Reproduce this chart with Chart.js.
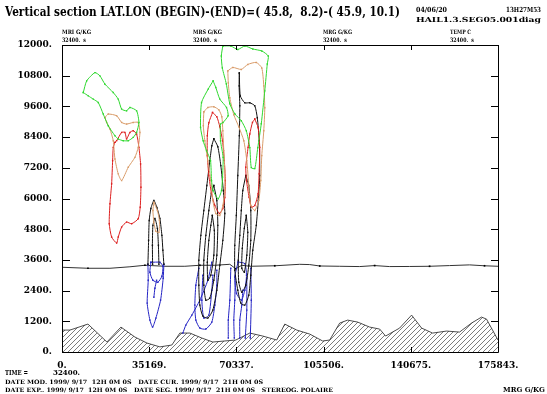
<!DOCTYPE html>
<html>
<head>
<meta charset="utf-8">
<script src="https://cdn.jsdelivr.net/npm/chart.js@4.4.0/dist/chart.umd.min.js"></script>
<style>
html,body{margin:0;padding:0;background:#fff;}
#wrap{position:relative;width:547px;height:394px;overflow:hidden;}
#chart{position:absolute;left:0;top:0;}
.t{position:absolute;white-space:pre;font-family:"DejaVu Serif",serif;font-weight:bold;color:#000;line-height:1;transform-origin:0 50%;}
</style>
</head>
<body>
<div id="wrap">
<canvas id="chart" width="547" height="394"></canvas>
<div class="t" data-x="5" data-y="12" data-w="395" style="font-size:12px">Vertical section LAT.LON (BEGIN)-(END)=( 45.8,  8.2)-( 45.9, 10.1)</div>
<div class="t" data-x="416" data-y="9" data-w="31" style="font-size:7px">04/06/20</div>
<div class="t" data-x="506" data-y="9" data-w="35" style="font-size:7px">13H27M53</div>
<div class="t" data-x="416" data-y="19" data-w="125" style="font-size:7px">HAIL1.3.SEG05.001diag</div>
<div class="t" data-x="62" data-y="32" data-w="29" style="font-size:6px">MRI G/KG</div>
<div class="t" data-x="62" data-y="40" data-w="24" style="font-size:6px">32400.  s</div>
<div class="t" data-x="193" data-y="32" data-w="29" style="font-size:6px">MRS G/KG</div>
<div class="t" data-x="193" data-y="40" data-w="24" style="font-size:6px">32400.  s</div>
<div class="t" data-x="323" data-y="32" data-w="29" style="font-size:6px">MRG G/KG</div>
<div class="t" data-x="323" data-y="40" data-w="24" style="font-size:6px">32400.  s</div>
<div class="t" data-x="450" data-y="32" data-w="21" style="font-size:6px">TEMP C</div>
<div class="t" data-x="450" data-y="40" data-w="24" style="font-size:6px">32400.  s</div>
<div class="t" data-x="5" data-y="372" data-w="23" style="font-size:8px">TIME =</div>
<div class="t" data-x="53" data-y="372" data-w="27" style="font-size:8px">32400.</div>
<div class="t" data-x="5" data-y="382" data-w="258" style="font-size:6px">DATE MOD. 1999/ 9/17  12H 0M 0S   DATE CUR. 1999/ 9/17  21H 0M 0S</div>
<div class="t" data-x="5" data-y="390" data-w="328" style="font-size:6px">DATE EXP.. 1999/ 9/17  12H 0M 0S   DATE SEG. 1999/ 9/17  21H 0M 0S   STEREOG. POLAIRE</div>
<div class="t" data-x="503" data-y="389" data-w="42" style="font-size:8px">MRG G/KG</div>
</div>
<script>
'use strict'

// axis values
const xTickValues = [0, 35169, 70337, 105506, 140675, 175843];
const yStep = 1200;
const yTop = 12000;

// points are [distance km, height m]
const terrain = [[0,857],[3.22,857],[10.47,1091],[18.13,390],[23.77,974],[29.41,584],[34.24,351],[39.48,200],[44.31,273],[47.54,740],[51.56,740],[56.40,545],[60.83,390],[70.10,468],[75.74,740],[80.97,623],[86.61,468],[89.84,1091],[94.67,857],[99.91,701],[105.14,429],[107.96,468],[111.99,1130],[115.22,1247],[119.24,1169],[124.08,974],[128.11,896],[130.52,623],[136.16,935],[141.00,1442],[145.03,935],[149.46,740],[155.10,818],[160.33,779],[165.17,1130],[169.20,1364],[171.21,1286],[175.84,468]];

const freezLevel = [[0,3312],[10.47,3273],[19.34,3273],[27.39,3331],[33.44,3390],[41.49,3351],[49.55,3351],[55.59,3390],[61.64,3390],[67.68,3428],[70.10,3253],[72.51,3390],[75.74,3351],[85.81,3370],[95.88,3428],[99.91,3417],[103.95,3362],[111.99,3351],[120.05,3339],[126.09,3378],[132.13,3339],[140.19,3343],[148.25,3351],[156.30,3378],[164.36,3405],[170.40,3370],[175.84,3351]];

const green1 = [[8.58,10141],[9.95,10597],[13.29,10921],[15.31,10792],[17.32,10469],[20.67,10141],[22.68,9884],[24.05,9495],[26.06,9428],[27.39,9557],[30.09,9428],[31.02,8973],[30.09,8583],[28.72,8388],[26.71,8260],[24.69,8260],[22.68,8326],[21.35,8454],[18.65,8844],[16.64,9300],[14.62,9752],[12.61,9884],[10.59,10013]];
const tan1 = [[17.32,9167],[18.65,9300],[22.04,9234],[24.05,8973],[26.06,8910],[28.72,8973],[30.74,8973],[31.42,8583],[30.74,7999],[29.41,7609],[26.71,7219],[24.05,6701],[22.68,6962],[21.35,7547],[20.67,8260],[19.34,8715],[18.01,8973]];
const red1 = [[21.35,8193],[22.04,8260],[24.05,8583],[25.38,8583],[26.06,8326],[27.39,8583],[28.72,8649],[30.09,8521],[31.02,7999],[31.70,7352],[31.83,6440],[31.54,5661],[30.74,5209],[28.08,5014],[26.06,5077],[24.05,4882],[22.68,4492],[22.04,4258],[20.02,4492],[19.05,5014],[19.34,5793],[20.02,6573],[20.42,7480],[20.67,7999]];

const black2a = [[34.65,3428],[34.93,4364],[35.17,5143],[35.85,5610],[37.06,5922],[38.27,5649],[39.48,5221],[40.29,4558],[40.69,3974],[41.09,3428]];
const black2b = [[36.54,3428],[36.46,4169],[36.66,4948],[37.47,5221],[38.47,4831],[38.88,4169],[39.08,3428]];
const tan2 = [[37.06,5844],[38.47,5532],[39.28,5143],[39.08,4675],[37.87,4714],[37.06,5065],[36.66,5532]];
const blue2a = [[34.65,3428],[34.77,2805],[34.36,1909],[35.45,1247],[36.54,974],[37.87,1325],[39.76,2026],[40.81,2883],[41.09,3428]];
const blue2b = [[35.85,3506],[35.45,3117],[36.66,2805],[38.67,2727],[40.29,2961],[40.69,3351],[39.48,3506]];
const blue2c = [[38.15,2805],[37.47,2493],[37.06,2143]];

const green3 = [[60.95,10597],[62.04,10336],[63.65,9884],[66.35,9557],[66.99,9234],[64.98,8973],[63.93,8910],[63.93,8260],[64.98,7609],[64.74,6830],[64.33,6312],[62.97,5988],[60.95,6312],[60.31,6701],[59.90,7480],[58.29,7870],[56.92,8260],[55.88,8778],[56.28,9752],[58.94,10274]];
const tan3 = [[57.20,9389],[58.82,9557],[61.23,9584],[63.25,9467],[64.46,9195],[64.86,8649],[65.26,7870],[65.66,7091],[65.66,6312],[64.86,5727],[63.65,5338],[62.04,5415],[60.83,5922],[60.02,6701],[58.82,7480],[57.61,8260],[57.00,8844]];
const red3 = [[60.71,9362],[62.44,9195],[63.65,8805],[64.74,8260],[65.46,7480],[65.87,6701],[65.66,6039],[64.86,5610],[63.45,5415],[61.64,5727],[60.23,6234],[59.22,6896],[58.61,7675],[58.61,8454],[59.22,8961]];
const black3a = [[61.23,8337],[62.84,8026],[64.05,7286],[65.06,6312],[65.66,5415],[64.86,4364],[63.65,3390],[62.44,2416],[60.83,1636],[58.82,1325],[56.80,1403],[55.59,1831],[55.19,2610],[55.19,3584],[56.00,4558],[57.20,5532],[58.41,6506],[59.62,7480],[60.43,8065]];
const black3b = [[61.23,6506],[62.44,5922],[62.84,4948],[62.44,3779],[61.23,2805],[59.62,2104],[58.01,2026],[57.20,2610],[57.20,3584],[58.01,4558],[59.22,5532],[60.23,6195]];
const black3c = [[60.63,5338],[61.43,4753],[61.23,3779],[60.02,3000],[58.82,2805],[58.61,3506],[59.22,4364],[60.02,4948]];
const blue3a = [[60.43,3506],[58.82,2805],[55.59,2026],[52.37,1442],[49.95,1052],[48.74,740]];
const blue3b = [[55.19,3273],[53.98,2610],[53.58,1831],[53.98,1247],[55.59,935],[58.01,896],[60.43,1169],[61.64,1831],[62.44,2610],[62.44,3195]];
const blue3c = [[56.80,3000],[56.40,2026],[57.20,1325],[59.22,1442],[60.43,2416],[60.83,3000]];

const green4 = [[64.86,11961],[64.25,11571],[64.66,11104],[66.27,10480],[67.68,9701],[69.69,9311],[72.31,9039],[74.33,8649],[75.74,7987],[76.34,7208],[77.75,7169],[78.96,7987],[80.37,8922],[81.78,10208],[82.79,11259],[83.19,11571],[80.57,11766],[76.94,11844],[73.72,11961],[70.90,11824],[68.08,11961]];
const tan4 = [[66.87,10987],[68.89,11123],[72.31,11045],[74.93,11240],[78.35,11318],[80.57,11104],[81.38,10402],[81.78,9545],[81.38,8649],[80.57,7675],[80.17,6701],[79.36,5922],[77.75,5532],[76.14,5727],[75.33,6506],[74.53,7480],[73.32,8260],[71.30,8805],[69.29,9272],[67.68,9935],[67.07,10519]];
const red4 = [[77.75,9105],[79.08,8778],[79.76,7999],[79.48,6962],[79.08,6183],[77.75,5727],[76.42,5661],[75.45,6051],[74.41,6701],[74.12,7219],[75.05,7999],[75.74,8521],[76.82,8973]];
const black4a = [[71.51,10909],[71.91,10013],[73.72,9740],[75.74,9740],[77.75,9623],[78.76,9156],[79.56,8260],[79.76,6896],[79.16,5922],[78.35,4948],[76.94,3974],[76.14,3000],[75.33,2221],[73.72,1831],[72.11,1909],[70.90,2416],[69.69,3195],[69.69,4169],[70.30,5338],[70.90,6896],[71.51,8454],[71.71,9623],[71.43,10402]];
const black4b = [[74.12,6896],[75.33,6506],[76.14,5532],[76.14,4364],[75.33,3390],[74.12,2610],[72.51,2338],[71.30,2727],[71.10,3584],[71.71,4558],[72.31,5532],[72.92,6312]];
const black4c = [[74.33,5338],[74.93,4675],[74.53,3779],[73.52,3117],[72.51,3273],[72.71,4052],[73.52,4831]];
const blue4a = [[68.08,3273],[67.68,2026],[67.07,1247],[67.07,545]];
const blue4b = [[69.89,3000],[69.69,2026],[69.29,1247],[69.49,545]];
const blue4c = [[72.92,2416],[72.51,1831],[71.71,1247],[71.71,545]];
const blue4d = [[74.53,2883],[74.53,1636],[73.92,545]];
const blue4e = [[76.14,3273],[76.34,2026],[75.94,545]];
const blue4f = [[71.02,3518],[69.69,2934],[70.38,2287],[72.39,2026],[73.72,2416],[74.41,3000],[73.72,3456]];

const GREEN = '#2fd82f', TAN = '#d99c6a', RED = '#dd2020', BLACK = '#111', BLUE = '#2424c4';

function hatch() {
    const c = document.createElement('canvas');
    c.width = 5; c.height = 5;
    const g = c.getContext('2d');
    g.strokeStyle = '#444';
    g.lineWidth = 0.7;
    g.beginPath();
    g.moveTo(0, 5); g.lineTo(5, 0);
    g.moveTo(-1, 1); g.lineTo(1, -1);
    g.moveTo(4, 6); g.lineTo(6, 4);
    g.stroke();
    return g.createPattern(c, 'repeat');
}

function contour(pts, color, closed) {
    const d = pts.map(p => ({x: p[0] * 1000, y: p[1]}));
    if (closed) d.push(d[0]);
    return {
        data: d, borderColor: color, borderWidth: 1, showLine: true, tension: 0.2,
        pointRadius: 1, pointStyle: 'rect', pointBackgroundColor: color, pointBorderWidth: 0, fill: false
    };
}

const datasets = [
    contour(green1, GREEN, true), contour(tan1, TAN, true), contour(red1, RED, true),
    contour(tan2, TAN, true), contour(black2a, BLACK), contour(black2b, BLACK),
    contour(blue2a, BLUE), contour(blue2b, BLUE, true), contour(blue2c, BLUE),
    contour(green3, GREEN, true), contour(tan3, TAN, true), contour(red3, RED, true),
    contour(black3a, BLACK, true), contour(black3b, BLACK, true), contour(black3c, BLACK, true),
    contour(blue3a, BLUE), contour(blue3b, BLUE), contour(blue3c, BLUE),
    contour(green4, GREEN, true), contour(tan4, TAN, true), contour(red4, RED, true),
    contour(black4a, BLACK, true), contour(black4b, BLACK, true), contour(black4c, BLACK, true),
    contour(blue4a, BLUE), contour(blue4b, BLUE), contour(blue4c, BLUE),
    contour(blue4d, BLUE), contour(blue4e, BLUE), contour(blue4f, BLUE, true),
    {
        data: freezLevel.map(p => ({x: p[0] * 1000, y: p[1]})), borderColor: '#333', borderWidth: 1,
        showLine: true, tension: 0, pointRadius: (c) => c.dataIndex % 3 === 1 ? 1.2 : 0,
        pointStyle: 'rect', pointBackgroundColor: '#000', pointBorderWidth: 0, fill: false
    },
    {
        data: terrain.map(p => ({x: p[0] * 1000, y: p[1]})), borderColor: '#222', borderWidth: 0.8,
        showLine: true, tension: 0, pointRadius: 0, fill: 'origin', backgroundColor: hatch()
    }
];

const frame = {
    id: 'frame',
    afterDatasetsDraw(chart) {
        const {ctx, chartArea: a, scales: {x, y}} = chart;
        const seg = (x1, y1, x2, y2) => { ctx.moveTo(x1, y1); ctx.lineTo(x2, y2); };
        ctx.save();
        ctx.strokeStyle = '#000';
        ctx.lineWidth = 1;
        ctx.beginPath();
        ctx.rect(a.left + 0.5, a.top + 0.5, a.right - a.left, a.bottom - a.top);
        y.ticks.forEach(t => {
            const py = Math.round(y.getPixelForValue(t.value)) + 0.5;
            seg(a.left, py, a.left + 8, py);
            seg(a.right - 7, py, a.right, py);
        });
        x.ticks.forEach(t => {
            const px = Math.round(x.getPixelForValue(t.value)) + 0.5;
            seg(px, a.bottom, px, a.bottom - 5);
            seg(px, a.top, px, a.top + 5);
        });
        ctx.stroke();
        ctx.restore();
    }
};

const tickFont = {family: 'DejaVu Serif', size: 9, weight: 'bold'};

new Chart(document.getElementById('chart').getContext('2d'), {
    type: 'scatter',
    data: {datasets: datasets},
    options: {
        responsive: false,
        animation: false,
        layout: {padding: {top: 45, right: 49, left: 0, bottom: 0}},
        plugins: {legend: {display: false}, tooltip: {enabled: false}},
        scales: {
            x: {
                type: 'linear', min: 0, max: xTickValues[xTickValues.length - 1],
                afterBuildTicks: (s) => { s.ticks = xTickValues.map(v => ({value: v})); },
                afterFit: (s) => { s.height = 42; },
                grid: {display: false, drawTicks: false},
                border: {display: false},
                ticks: {padding: 8, font: tickFont, color: '#000', maxRotation: 0, autoSkip: false, callback: (v) => v + '.'}
            },
            y: {
                min: 0, max: yTop,
                afterFit: (s) => { s.width = 62; },
                grid: {display: false, drawTicks: false},
                border: {display: false},
                ticks: {stepSize: yStep, padding: 10, font: tickFont, color: '#000', callback: (v) => v + '.'}
            }
        }
    },
    plugins: [frame]
});

// place header and footer texts
document.querySelectorAll('.t').forEach(el => {
    const w = el.getBoundingClientRect().width;
    const h = el.getBoundingClientRect().height;
    el.style.left = el.dataset.x + 'px';
    el.style.top = (el.dataset.y - h / 2) + 'px';
    el.style.transform = 'scaleX(' + (el.dataset.w / w) + ')';
});
</script>
</body>
</html>
